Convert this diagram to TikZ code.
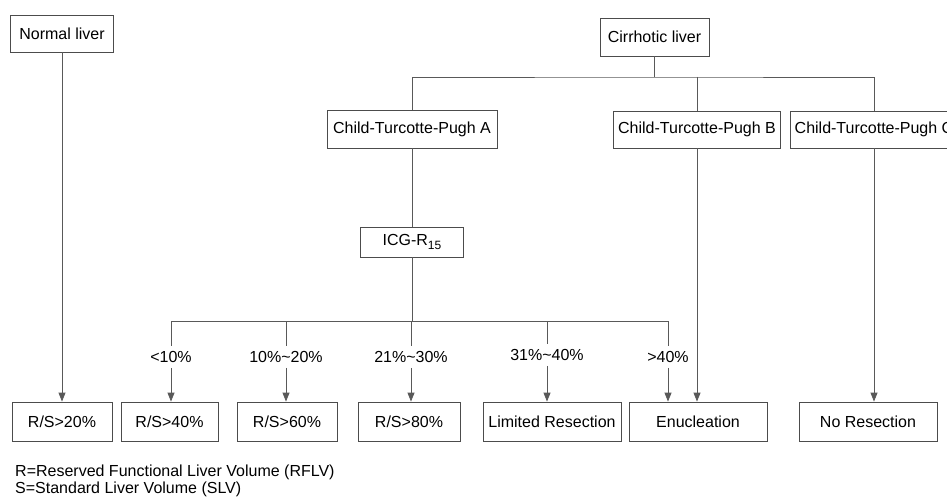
\documentclass[tikz,border=0pt]{standalone}
\usepackage{fontspec}
\setmainfont{Liberation Sans}
\usetikzlibrary{arrows.meta}
\tikzset{
    block/.style = {draw=black!70, rectangle, line width=0.8pt, minimum height=38pt, inner xsep=3pt, align=center, font=\fontsize{16}{19}\selectfont},
    line/.style = {draw=black!65, line width=0.8pt},
    arr/.style = {line, -{Triangle[length=9pt,width=7pt]}},
    cut/.style = {inner xsep=2pt, inner ysep=5pt, font=\fontsize{16}{19}\selectfont},
}
\newcommand{\lowsub}[1]{{\fontsize{12}{12}\selectfont\raisebox{-4pt}{#1}}}

\begin{document}
\begin{tikzpicture}[x=1pt, y=-1pt]
    \useasboundingbox (0,0) rectangle (947,497);

    % Liver types
    \node[block, minimum width=103pt, minimum height=37pt] (normal) at (62,33.5) {Normal liver};
    \node[block, minimum width=109pt] (cir) at (654.5,37) {Cirrhotic liver};

    % Child-Turcotte-Pugh classes
    \node[block, minimum width=170pt] (cpA) at (412,129) {Child-Turcotte-Pugh A};
    \node[block, minimum width=167pt, minimum height=37pt] (cpB) at (697,129.5) {Child-Turcotte-Pugh B};
    \node[block, minimum width=168pt, minimum height=37pt] (cpC) at (874,129.5) {Child-Turcotte-Pugh C};

    % ICG test
    \node[block, minimum width=103pt, minimum height=30pt] (icg) at (412,242) {ICG-R\lowsub{15}};

    % Results
    \node[block, minimum width=100pt, minimum height=39pt] (rs20) at (62,421.5) {R/S>20\%};
    \node[block, minimum width=97pt, minimum height=39pt] (rs40) at (169.5,421.5) {R/S>40\%};
    \node[block, minimum width=100pt, minimum height=39pt] (rs60) at (287,421.5) {R/S>60\%};
    \node[block, minimum width=102pt, minimum height=39pt] (rs80) at (409,421.5) {R/S>80\%};
    \node[block, minimum width=138pt, minimum height=39pt] (limres) at (552,421.5) {Limited Resection};
    \node[block, minimum width=138pt, minimum height=39pt] (enuc) at (698,421.5) {Enucleation};
    \node[block, minimum width=138pt, minimum height=39pt] (nores) at (868,421.5) {No Resection};

    % ICG ranges
    \node[cut] (l1) at (171,357) {<10\%};
    \node[cut] (l2) at (286,357) {10\%\textasciitilde20\%};
    \node[cut] (l3) at (411,357) {21\%\textasciitilde30\%};
    \node[cut] (l4) at (547,355) {31\%\textasciitilde40\%};
    \node[cut] (l5) at (668,357) {>40\%};

    % Legend
    \node[anchor=west, align=left, inner sep=0pt, font=\fontsize{16}{17}\selectfont] (legend) at (15,481) {R=Reserved Functional Liver Volume (RFLV)\\S=Standard Liver Volume (SLV)};

    % Connections
    \coordinate (busT) at (654.5,77);
    \draw[line] (cir) -- (busT);
    \draw[line] (cpA) |- (busT) -| (cpC);
    \draw[line] (busT -| cpB) -- (cpB);

    \draw[arr] (normal) -- (normal |- rs20.north);
    \draw[arr] (cpB) -- (cpB |- enuc.north);
    \draw[arr] (cpC) -- (cpC |- nores.north);

    \draw[line] (cpA) -- (icg);
    \coordinate (busB) at (412,321);
    \draw[line] (icg) -- (busB);
    \draw[line] (l1 |- busB) -- (l5 |- busB);
    \foreach \l/\b in {l1/rs40, l2/rs60, l3/rs80, l4/limres, l5/enuc} {
        \draw[line] (\l |- busB) -- (\l);
        \draw[arr] (\l) -- (\l |- \b.north);
    }
\end{tikzpicture}
\end{document}
